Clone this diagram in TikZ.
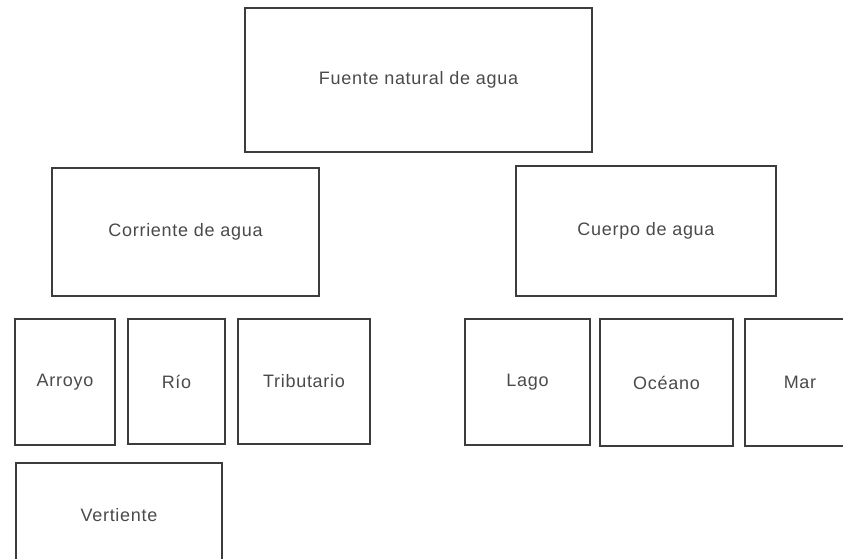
\documentclass[tikz,border=0pt]{standalone}
\usepackage{fontspec}
\setmainfont{Liberation Sans}[LetterSpace=4]
\usetikzlibrary{positioning}

\definecolor{borde}{HTML}{3C3C3C}
\definecolor{letra}{HTML}{4A4A4A}

\tikzset{
    caja/.style={draw=borde,line width=1.3pt,text=letra,inner sep=0pt,
        font=\fontsize{18}{21}\selectfont},
}

\begin{document}
\begin{tikzpicture}[x=1pt,y=-1pt]
\useasboundingbox (0,0) rectangle (843,558);
\clip (0,0) rectangle (843,558);
% nivel 1
\node[caja,minimum width=347pt,minimum height=144pt] (fuente) at (418.5,80) {Fuente natural de agua};
% nivel 2
\node[caja,minimum width=267pt,minimum height=128pt] (corriente) at (185.5,232) {Corriente de agua};
\node[caja,minimum width=260pt,minimum height=130pt] (cuerpo) at (646,231) {Cuerpo de agua};
% nivel 3
\node[caja,minimum width=100pt,minimum height=126pt] (arroyo) at (65,382) {Arroyo};
\node[caja,minimum width=97pt,minimum height=125pt] (rio) at (176.5,381.5) {Río};
\node[caja,minimum width=132pt,minimum height=125pt] (tributario) at (304,381.5) {Tributario};
\node[caja,minimum width=206pt,minimum height=104pt] (vertiente) at (119,515) {Vertiente};
\node[caja,minimum width=125pt,minimum height=126pt] (lago) at (527.5,382) {Lago};
\node[caja,minimum width=133pt,minimum height=127pt] (oceano) at (666.5,382.5) {Océano};
\node[caja,minimum width=110pt,minimum height=127pt] (mar) at (800,382.5) {Mar};
\end{tikzpicture}
\end{document}
